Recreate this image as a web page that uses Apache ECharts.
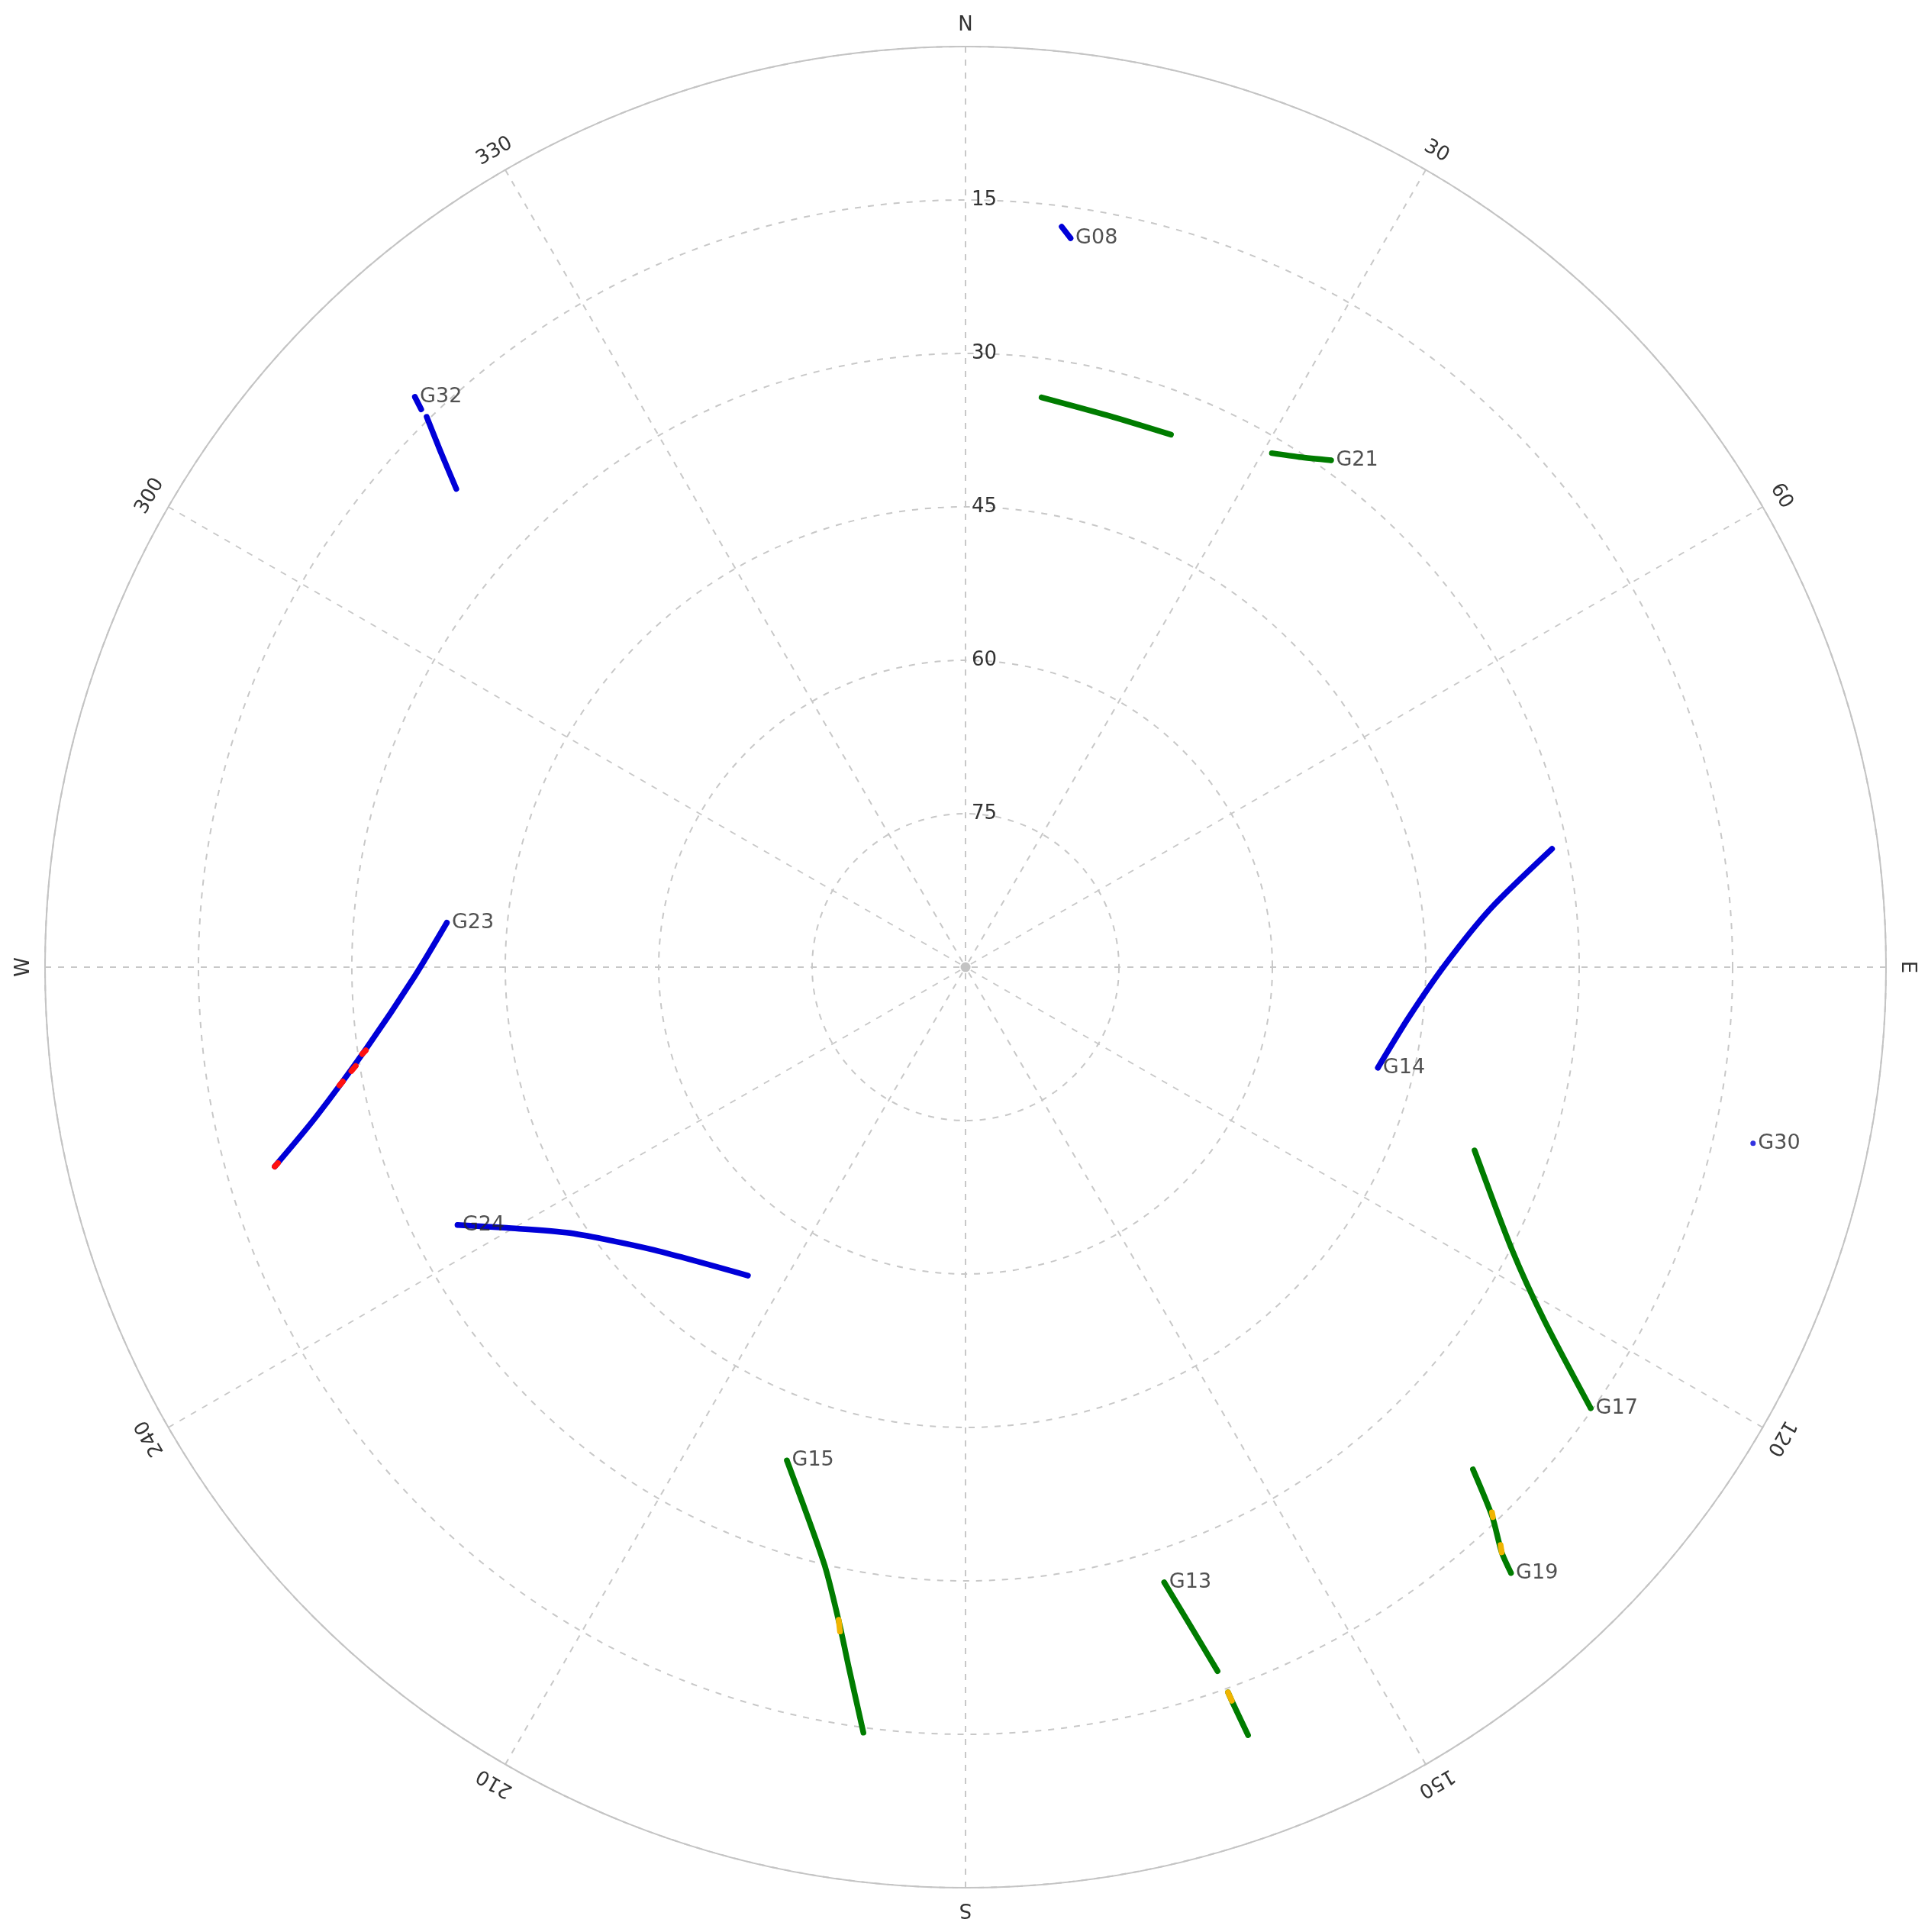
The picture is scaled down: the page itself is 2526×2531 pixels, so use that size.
<!DOCTYPE html>
<html>
<head>
<meta charset="utf-8">
<title>Skyplot</title>
<script src="https://cdn.jsdelivr.net/npm/echarts@6/dist/echarts.min.js"></script>
<style>
  html, body { margin: 0; padding: 0; background: #fff; }
  #skyplot { width: 2526px; height: 2531px; }
</style>
</head>
<body>
<div id="skyplot"></div>
<script>
// track samples, [elevation, azimuth] in degrees
const G08 = [[17.0, 7.4], [18.0, 8.2]]
const arcN = [[33.8, 7.6], [34.3, 14.5], [34.2, 21.1]]
const G21 = [[31.5, 30.8], [30.4, 33.2], [28.9, 35.8]]
const G32a = [[12.5, 316.0], [13.8, 315.7]]
const G32b = [[14.7, 315.6], [18.0, 314.5], [21.7, 313.2]]
const G14 = [[31.5, 78.6], [38.3, 83.6], [43.1, 89.7], [46.4, 96.5], [48.5, 103.7]]
const G30 = [[11.1, 102.6]]
const G17 = [[37.1, 109.8], [29.9, 117.3], [23.7, 121.4], [15.2, 125.2]]
const G19 = [[20.2, 134.7], [15.6, 136.2], [12.4, 137.5], [10.3, 138.0]]
const G13a = [[26.8, 162.1], [22.0, 161.15], [16.9, 160.3]]
const G13b = [[14.6, 160.1], [13.7, 160.05], [10.0, 159.8]]
const G15 = [[38.7, 199.9], [30.0, 193.3], [24.7, 190.9], [20.4, 189.4], [14.5, 187.6]]
const G23 = [[39.1, 274.9], [36.1, 269.0], [30.9, 262.3], [24.8, 257.0], [19.7, 253.9]]
const G24 = [[34.3, 243.1], [38.4, 240.4], [43.4, 236.1], [48.7, 228.1], [53.1, 215.2]]

// short stretches drawn in another colour
const orangeBits = [
  [[15.9, 136.0], [15.5, 136.2]],
  [[13.0, 137.2], [12.4, 137.5]],
  [[14.6, 160.1], [13.7, 160.05]],
  [[25.0, 191.0], [23.9, 190.7]]
]
const redBits = [
  [[30.8, 262.1], [30.4, 261.8]],
  [[29.6, 260.8], [29.1, 260.4]],
  [[28.1, 259.6], [27.7, 259.3]],
  [[20.1, 254.1], [19.7, 253.9]]
]

// where each satellite name sits
const satLabels = [
  ['G08', G08[1]], ['G21', G21[2]], ['G32', G32a[0]], ['G14', G14[4]],
  ['G30', G30[0]], ['G17', G17[3]], ['G19', G19[3]], ['G13', G13a[0]],
  ['G15', G15[0]], ['G23', G23[0]], ['G24', G24[0]]
]

const elevTicks = [15, 30, 45, 60, 75]
const azTicks = [0, 30, 60, 90, 120, 150, 180, 210, 240, 270, 300, 330]
const azNames = ['N', '30', '60', 'E', '120', '150', 'S', '210', '240', 'W', '300', '330']

const BLUE = '#0000d8'
const GREEN = '#007c00'
const blueSats = ['G08', 'G32', 'G14', 'G30', 'G23', 'G24']

function track(data, color, z) {
  return {
    type: 'line',
    coordinateSystem: 'polar',
    data: data,
    symbol: 'none',
    smooth: data.length > 2 ? 0.25 : false,
    silent: true,
    z: z || 2,
    lineStyle: { color: color, width: 7.5, cap: 'round', join: 'round' }
  }
}

const gridLine = { color: '#c8c8c8', width: 2, type: [8, 9] }

const series = [
  track(G08, BLUE), track(G32a, BLUE), track(G32b, BLUE), track(G14, BLUE),
  track(G23, BLUE), track(G24, BLUE),
  track(arcN, GREEN), track(G21, GREEN), track(G17, GREEN), track(G19, GREEN),
  track(G13a, GREEN), track(G13b, GREEN), track(G15, GREEN)
]
orangeBits.forEach(seg => series.push(track(seg, '#f0b400', 3)))
redBits.forEach(seg => series.push(track(seg, '#ff1010', 3)))

// zenith dot
series.push({
  type: 'scatter',
  coordinateSystem: 'polar',
  data: [[90, 0]],
  symbolSize: 13,
  silent: true,
  itemStyle: { color: '#b4b4b4' },
  z: 1
})

// satellite names
series.push({
  type: 'scatter',
  coordinateSystem: 'polar',
  symbolSize: 7,
  silent: true,
  z: 4,
  data: satLabels.map(([name, p]) => ({
    name: name,
    value: p,
    itemStyle: { color: blueSats.includes(name) ? BLUE : GREEN }
  })),
  label: {
    show: true,
    position: 'right',
    distance: 3,
    formatter: '{b}',
    fontFamily: 'DejaVu Sans',
    fontSize: 27,
    color: '#262626'
  }
})

const chart = echarts.init(document.getElementById('skyplot'))
chart.setOption({
  animation: false,
  backgroundColor: '#fff',
  polar: { center: [1265, 1267], radius: 1206 },
  angleAxis: {
    type: 'value',
    min: 0,
    max: 360,
    interval: 30,
    startAngle: 90,
    clockwise: true,
    axisLine: { lineStyle: { color: '#c4c4c4', width: 2 } },
    axisTick: { show: false },
    axisLabel: { show: false },
    splitLine: { show: true, lineStyle: gridLine }
  },
  radiusAxis: {
    type: 'value',
    min: 0,
    max: 90,
    interval: 15,
    inverse: true,
    axisLine: { show: false },
    axisTick: { show: false },
    axisLabel: { show: false },
    splitLine: { show: true, lineStyle: gridLine }
  },
  series: series
})

// azimuth labels turn with the rim, elevation labels sit beside the north spoke
const texts = []
azTicks.forEach((az, i) => {
  const p = chart.convertToPixel({ polarIndex: 0 }, [-2.1, az])
  texts.push({
    type: 'text',
    x: p[0],
    y: p[1],
    rotation: -az * Math.PI / 180,
    silent: true,
    style: {
      text: azNames[i],
      fill: '#333',
      font: '26px "DejaVu Sans"',
      align: 'center',
      verticalAlign: 'middle',
      textAlign: 'center',
      textVerticalAlign: 'middle'
    }
  })
})
elevTicks.forEach(v => {
  const p = chart.convertToPixel({ polarIndex: 0 }, [v, 0])
  texts.push({
    type: 'text',
    x: p[0] + 8,
    y: p[1],
    silent: true,
    style: {
      text: String(v),
      fill: '#333',
      font: '26px "DejaVu Sans"',
      align: 'left',
      verticalAlign: 'middle',
      textAlign: 'left',
      textVerticalAlign: 'middle'
    }
  })
})
chart.setOption({ graphic: { elements: texts } })
</script>
</body>
</html>
